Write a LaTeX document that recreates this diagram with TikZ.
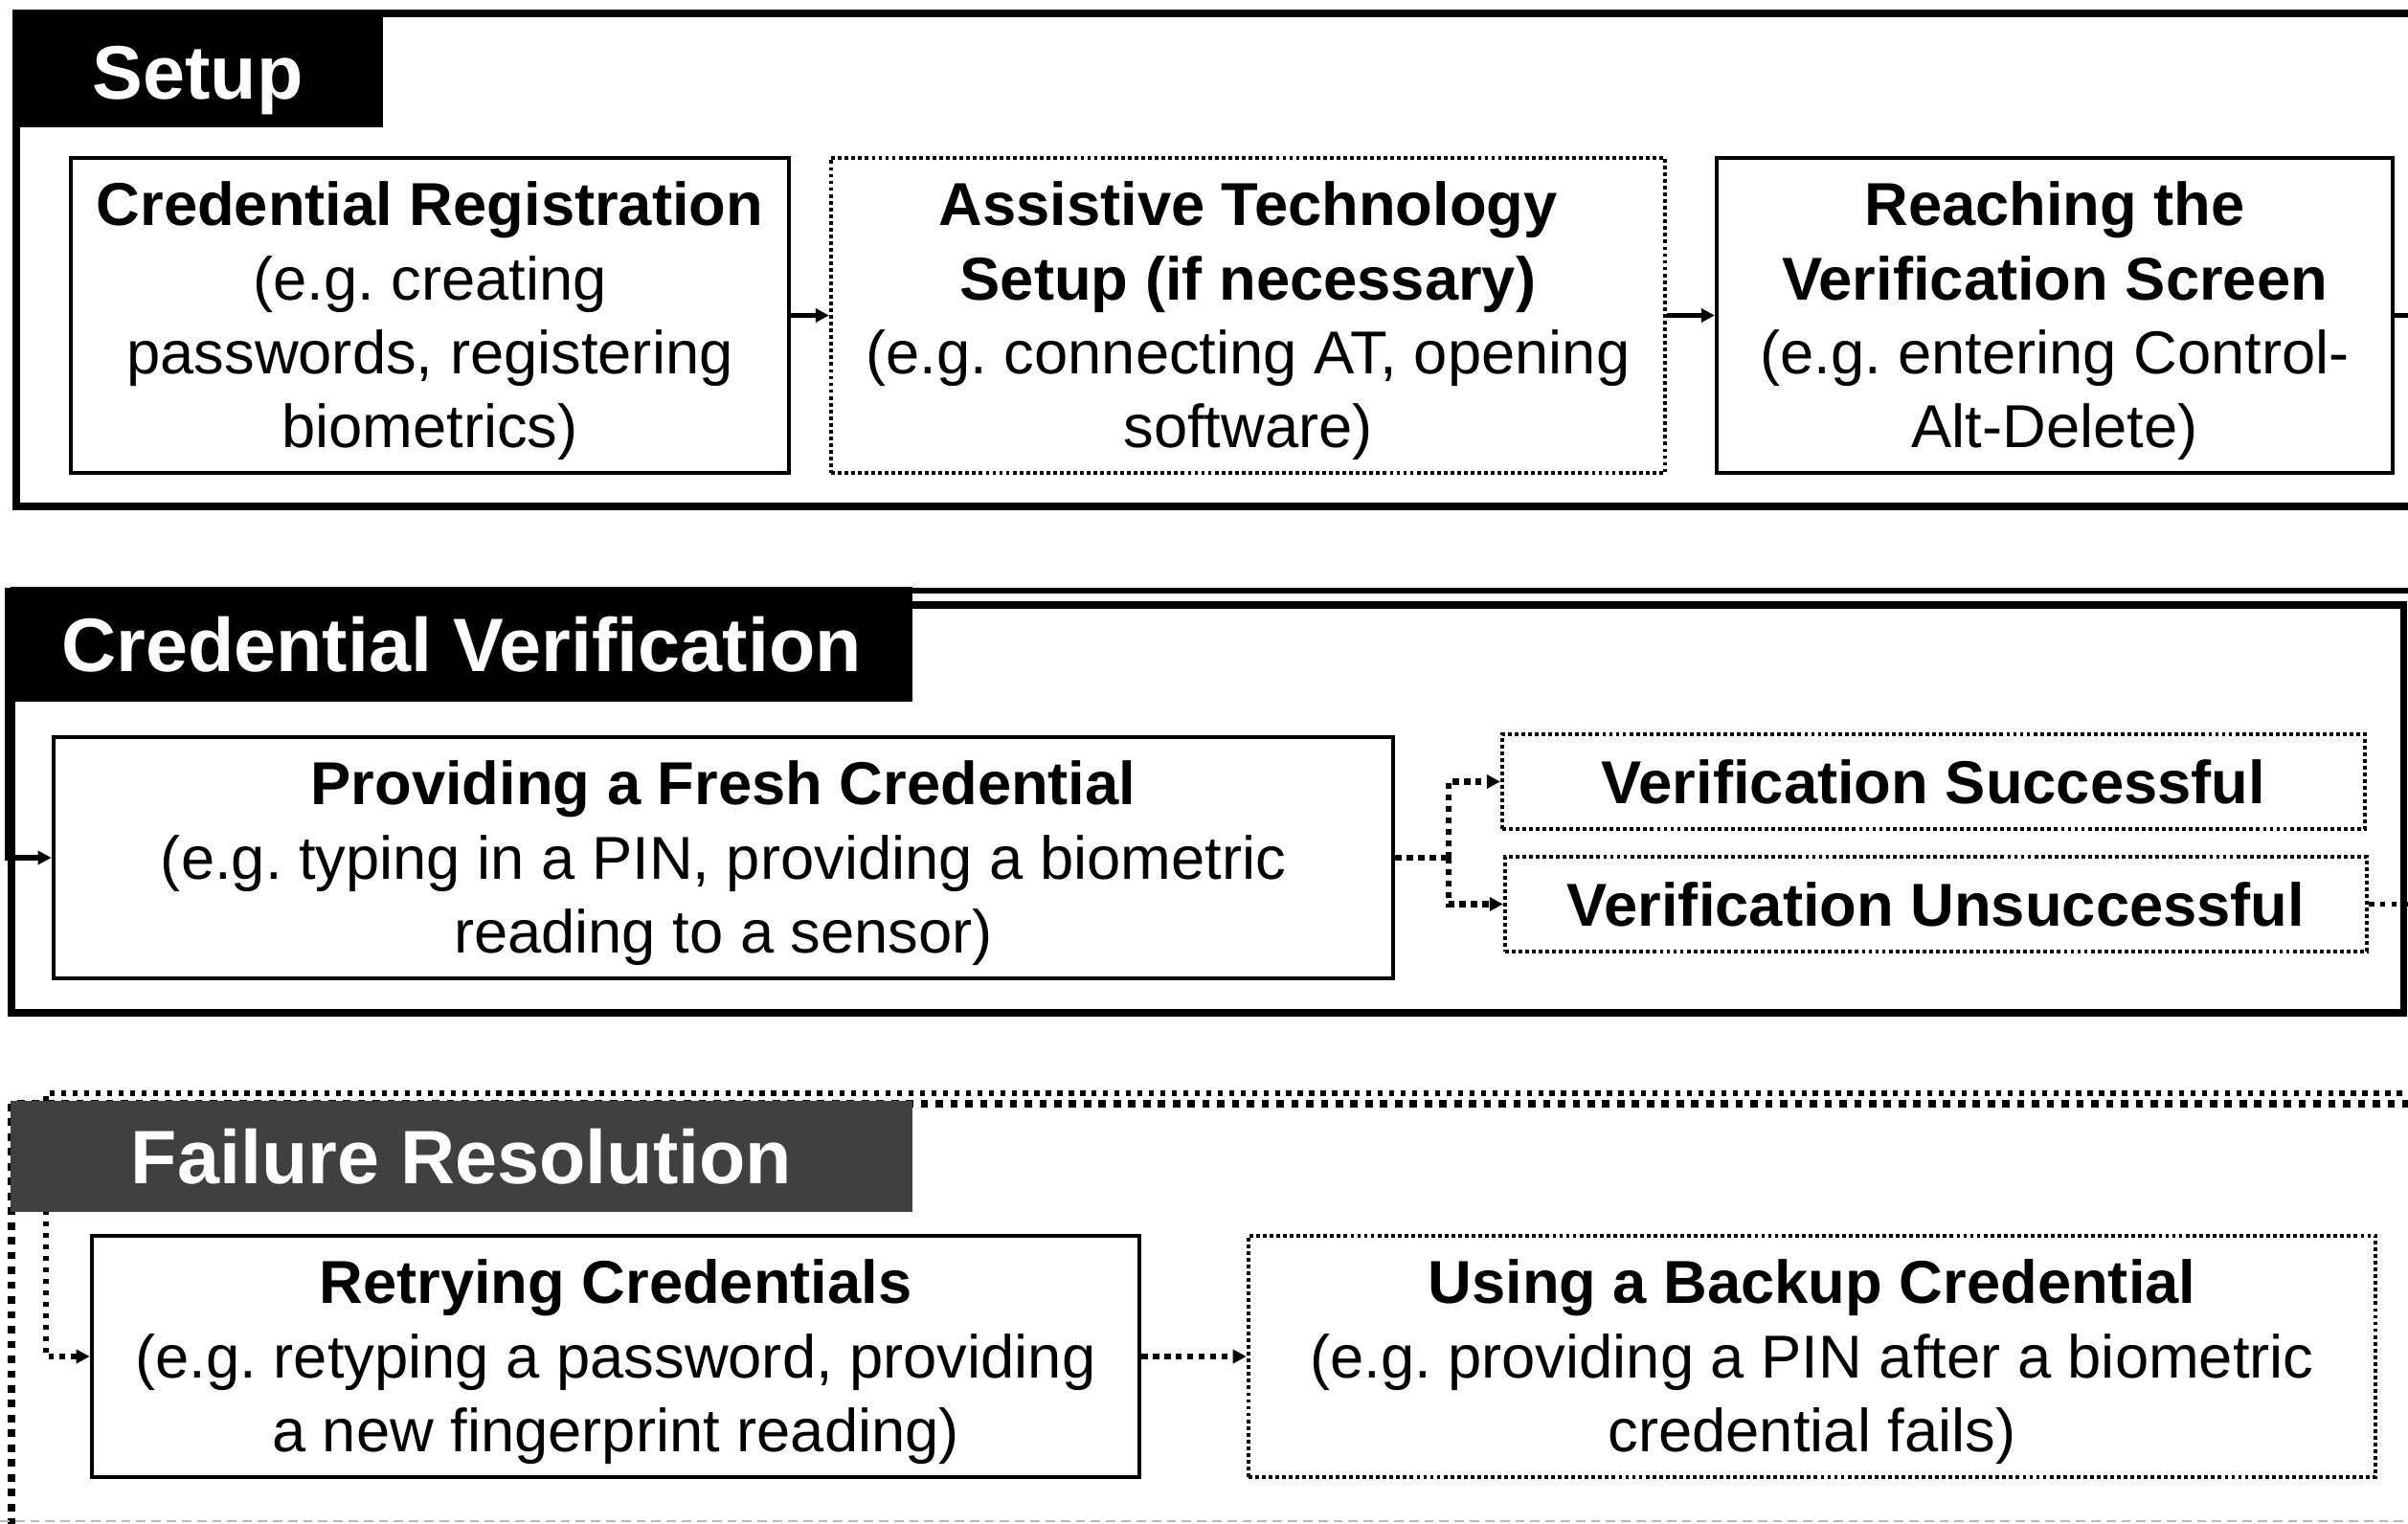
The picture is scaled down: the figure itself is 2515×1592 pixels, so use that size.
\documentclass[tikz,border=0pt]{standalone}
\usepackage{fontspec}
\setmainfont{Liberation Sans}
\usetikzlibrary{arrows.meta}
\newcommand{\myfirststrut}{\rule{0pt}{16.4pt}}
\begin{document}
\frenchspacing
\begin{tikzpicture}[x=0.01cm, y=-0.01cm,
  bodytext/.style={font=\fontsize{18}{22}\selectfont, align=center},
  stepbox/.style={draw, line width=1.1pt, inner sep=0pt, bodytext},
  dotbox/.style={stepbox, dash pattern=on 1.1pt off 0.9pt},
  grouplabel/.style={inner sep=0pt, text=white, font=\bfseries\fontsize{22.5}{27}\selectfont},
  solidframe/.style={line width=2pt},
  dotframe/.style={line width=2.2pt, dash pattern=on 2.2pt off 2.2pt},
  solidarrow/.style={line width=1.5pt, -{Triangle[length=4pt,width=4pt]}},
  dotarrow/.style={line width=1.8pt, dash pattern=on 1.8pt off 1.6pt, -{Triangle[length=4pt,width=4pt]}},
  thindotarrow/.style={line width=1.5pt, dash pattern=on 1.5pt off 1.9pt, -{Triangle[length=4pt,width=4pt]}},
]
\useasboundingbox (0,0) rectangle (2515,1592);
\clip (0,0) rectangle (2515,1592);
\fill[white] (0,0) rectangle (2515,1592);

% ---------- frames ----------
\draw[solidframe] (17,14) rectangle (2600,529);
\draw[solidframe] (12,632) rectangle (2510,1058);
\draw[dotframe] (12,1153) rectangle (2600,1620);
\draw[gray!55, line width=0.4pt, dash pattern=on 2.8pt off 1.7pt] (0,1589) -- (2515,1589);

% ---------- Setup ----------
\node[stepbox, minimum width=7.50cm, minimum height=3.29cm] (b1) at (449,329.5)
  {\myfirststrut\textbf{Credential Registration}\\(e.g. creating\\passwords, registering\\biometrics)};
\node[dotbox, minimum width=8.71cm, minimum height=3.29cm] (b2) at (1303.5,329.5)
  {\myfirststrut\textbf{Assistive Technology}\\\textbf{Setup (if necessary)}\\(e.g. connecting AT, opening\\software)};
\node[stepbox, minimum width=7.06cm, minimum height=3.29cm] (b3) at (2146,329.5)
  {\myfirststrut\textbf{Reaching the}\\\textbf{Verification Screen}\\(e.g. entering Control-\\Alt-Delete)};

\draw[solidarrow] (b1.east) -- (b2.west);
\draw[solidarrow] (b2.east) -- (b3.west);

% ---------- Credential Verification ----------
\node[stepbox, minimum width=13.99cm, minimum height=2.52cm] (prov) at (755.5,896)
  {\myfirststrut\textbf{Providing a Fresh Credential}\\(e.g. typing in a PIN, providing a biometric\\reading to a sensor)};
\node[dotbox, minimum width=9.01cm, minimum height=0.99cm] (succ) at (2019.5,816.5)
  {\textbf{Verification Successful}};
\node[dotbox, minimum width=9.00cm, minimum height=0.99cm] (unsucc) at (2022,944.5)
  {\textbf{Verification Unsuccessful}};

% connector Setup -> Credential Verification
\coordinate (sR) at (2560,617);
\coordinate (sL) at (8,617);
\draw[solidarrow] (b3.east) -| (sR) -- (sL) |- (prov.west);

% branch
\coordinate (br) at (1513,896);
\draw[dotarrow, -] (prov.east) -- (br);
\draw[dotarrow] (br) |- (succ.west);
\draw[dotarrow] (br) |- (unsucc.west);

% ---------- Failure Resolution ----------
\node[stepbox, minimum width=10.94cm, minimum height=2.52cm] (retry) at (643,1417)
  {\myfirststrut\textbf{Retrying Credentials}\\(e.g. retyping a password, providing\\a new fingerprint reading)};
\node[dotbox, minimum width=11.77cm, minimum height=2.52cm] (backup) at (1892.5,1417)
  {\myfirststrut\textbf{Using a Backup Credential}\\(e.g. providing a PIN after a biometric\\credential fails)};

\coordinate (fR) at (2560,1142);
\coordinate (fL) at (48,1142);
\draw[thindotarrow] (unsucc.east) -| (fR) -- (fL) |- (retry.west);
\draw[dotarrow] (retry.east) -- (backup.west);

% ---------- group labels (drawn on top) ----------
\node[grouplabel, fill=black, minimum width=3.87cm, minimum height=1.23cm, text height=18pt, text depth=0pt] (lsetup) at (206.5,71.5) {Setup};
\node[grouplabel, fill=black, minimum width=9.42cm, minimum height=1.20cm] (lcv) at (482,673) {Credential Verification};
\node[grouplabel, fill={rgb,255:red,64;green,64;blue,64}, minimum width=9.42cm, minimum height=1.16cm] (lfr) at (482,1208) {Failure Resolution};
\end{tikzpicture}
\end{document}
